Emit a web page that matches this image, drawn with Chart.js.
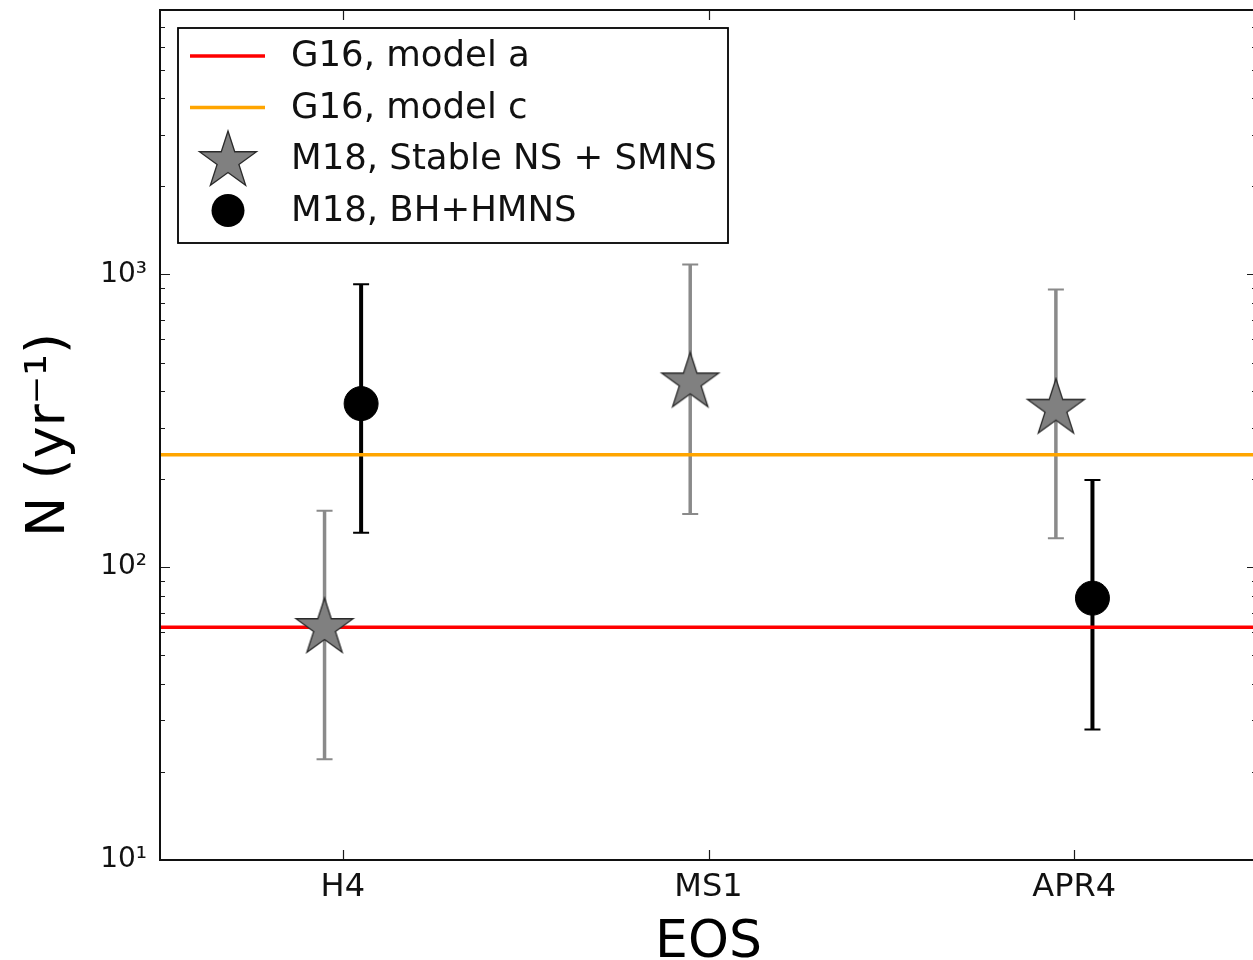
<!DOCTYPE html>
<html>
<head>
<meta charset="utf-8">
<title>N vs EOS</title>
<script src="https://cdn.jsdelivr.net/npm/chart.js@4"></script>
<style>
  html, body { margin: 0; padding: 0; background: #fff; overflow: hidden; }
  #wrap { width: 1258px; height: 960px; }
</style>
</head>
<body>
<div id="wrap"><canvas id="chart" width="1258" height="960"></canvas></div>
<script>
// categories on the x axis
const eosLabels = ['H4', 'MS1', 'APR4'];
const yTickValues = [10, 100, 1000];
const yTickLabels = ['10\u00B9', '10\u00B2', '10\u00B3'];

// G16 rates, drawn as horizontal levels
const g16ModelA = 62.4;
const g16ModelC = 242;

// M18 stable NS + SMNS (stars)
const starEos = [0, 1, 2];
const starValue = [62, 428, 348];
const starLow = [22.1, 152, 125.6];
const starHigh = [156, 1082, 889];

// M18 BH+HMNS (circles)
const circleEos = [0, 2];
const circleValue = [362, 78.4];
const circleLow = [131, 27.9];
const circleHigh = [925, 198.6];

const xShift = 0.05;
const FONT = "'DejaVu Sans', 'Liberation Sans', sans-serif";
Chart.defaults.font.family = FONT;

function makeStar(r) {
  const size = 2 * Math.ceil(r + 2);
  const c = document.createElement('canvas');
  c.width = size; c.height = size;
  const g = c.getContext('2d');
  g.beginPath();
  for (let i = 0; i < 10; i++) {
    const rad = i % 2 === 0 ? r : r * 0.381966;
    const a = -Math.PI / 2 + i * Math.PI / 5;
    g.lineTo(size / 2 + rad * Math.cos(a), size / 2 + rad * Math.sin(a));
  }
  g.closePath();
  g.fillStyle = '#808080';
  g.fill();
  g.lineWidth = 1.3;
  g.strokeStyle = '#2a2a2a';
  g.stroke();
  return c;
}
const starImg = makeStar(30);

const starPoints = starEos.map((e, i) => ({ x: e - xShift, y: starValue[i] }));
const circlePoints = circleEos.map((e, i) => ({ x: e + xShift, y: circleValue[i] }));

// vertical error bars with caps, drawn under everything else
const errorBars = {
  id: 'errorBars',
  beforeDatasetsDraw(chart) {
    const ctx = chart.ctx;
    const y = chart.scales.y;
    chart.data.datasets.forEach((ds, di) => {
      if (!ds.errLow) return;
      const meta = chart.getDatasetMeta(di);
      meta.data.forEach((pt, i) => {
        const yl = y.getPixelForValue(ds.errLow[i]);
        const yh = y.getPixelForValue(ds.errHigh[i]);
        ctx.save();
        ctx.strokeStyle = ds.errColor;
        ctx.lineWidth = ds.errWidth;
        ctx.beginPath();
        ctx.moveTo(pt.x, yl);
        ctx.lineTo(pt.x, yh);
        ctx.stroke();
        ctx.lineWidth = 2;
        ctx.beginPath();
        ctx.moveTo(pt.x - 8, yl); ctx.lineTo(pt.x + 8, yl);
        ctx.moveTo(pt.x - 8, yh); ctx.lineTo(pt.x + 8, yh);
        ctx.stroke();
        ctx.restore();
      });
    });
  }
};

// frame, inward ticks and the boxed legend
const frameAndLegend = {
  id: 'frameAndLegend',
  afterDraw(chart) {
    const ctx = chart.ctx;
    const a = chart.chartArea;
    const xs = chart.scales.x, ys = chart.scales.y;
    ctx.save();
    ctx.strokeStyle = '#1a1a1a';
    ctx.lineWidth = 1.2;
    ctx.beginPath();
    eosLabels.forEach((_, i) => {
      const px = Math.round(xs.getPixelForValue(i)) + 0.5;
      ctx.moveTo(px, a.bottom); ctx.lineTo(px, a.bottom - 10);
      ctx.moveTo(px, a.top); ctx.lineTo(px, a.top + 10);
    });
    for (let d = 10; d <= 1000; d *= 10) {
      for (let k = 1; k <= 9; k++) {
        const v = k * d;
        if (v > ys.max) break;
        const len = k === 1 ? 10 : 5;
        const py = Math.round(ys.getPixelForValue(v)) + 0.5;
        ctx.moveTo(a.left, py); ctx.lineTo(a.left + len, py);
        ctx.moveTo(a.right, py); ctx.lineTo(a.right - len, py);
      }
    }
    ctx.stroke();

    ctx.lineWidth = 2;
    ctx.strokeStyle = '#111';
    ctx.strokeRect(a.left, a.top, a.right - a.left, a.bottom - a.top);

    // legend box
    const lx = a.left + 18, ly = a.top + 18, lw = 550, lh = 215;
    ctx.fillStyle = '#fff';
    ctx.fillRect(lx, ly, lw, lh);
    ctx.lineWidth = 1.8;
    ctx.strokeStyle = '#000';
    ctx.strokeRect(lx, ly, lw, lh);

    const entries = [
      { label: 'G16, model a', kind: 'line', color: '#ff0000' },
      { label: 'G16, model c', kind: 'line', color: '#ffa500' },
      { label: 'M18, Stable NS + SMNS', kind: 'star' },
      { label: 'M18, BH+HMNS', kind: 'circle' }
    ];
    ctx.font = '35.5px ' + FONT;
    ctx.textBaseline = 'middle';
    ctx.textAlign = 'left';
    entries.forEach((e, i) => {
      const cy = ly + 28 + i * 51.5;
      if (e.kind === 'line') {
        ctx.strokeStyle = e.color;
        ctx.lineWidth = 3.5;
        ctx.beginPath();
        ctx.moveTo(lx + 12, cy); ctx.lineTo(lx + 87, cy);
        ctx.stroke();
      } else if (e.kind === 'star') {
        ctx.drawImage(starImg, lx + 50 - starImg.width / 2, cy + 2 - starImg.height / 2);
      } else {
        ctx.fillStyle = '#000';
        ctx.beginPath();
        ctx.arc(lx + 50, cy, 16.5, 0, Math.PI * 2);
        ctx.fill();
      }
      ctx.fillStyle = '#111';
      ctx.fillText(e.label, lx + 113, cy + 1);
    });
    ctx.restore();
  }
};

new Chart(document.getElementById('chart'), {
  type: 'scatter',
  data: {
    datasets: [
      {
        label: 'M18, BH+HMNS',
        data: circlePoints,
        pointStyle: 'circle',
        pointRadius: 17,
        backgroundColor: '#000',
        borderColor: '#000',
        borderWidth: 1,
        errLow: circleLow, errHigh: circleHigh,
        errColor: '#000', errWidth: 4
      },
      {
        label: 'M18, Stable NS + SMNS',
        data: starPoints,
        pointStyle: starImg,
        pointRadius: 30,
        errLow: starLow, errHigh: starHigh,
        errColor: '#8a8a8a', errWidth: 3.5
      },
      {
        label: 'G16, model c',
        data: [{ x: -0.5, y: g16ModelC }, { x: 2.5, y: g16ModelC }],
        showLine: true,
        pointRadius: 0,
        borderColor: '#ffa500',
        borderWidth: 3.5
      },
      {
        label: 'G16, model a',
        data: [{ x: -0.5, y: g16ModelA }, { x: 2.5, y: g16ModelA }],
        showLine: true,
        pointRadius: 0,
        borderColor: '#ff0000',
        borderWidth: 3.5
      }
    ]
  },
  options: {
    responsive: false,
    animation: false,
    layout: { autoPadding: false, padding: { top: 10, right: 1, left: 0, bottom: 0 } },
    plugins: { legend: { display: false }, tooltip: { enabled: false } },
    scales: {
      x: {
        type: 'linear',
        min: -0.5,
        max: 2.5,
        grid: { display: false, drawTicks: false },
        border: { display: false },
        afterBuildTicks: s => { s.ticks = eosLabels.map((_, i) => ({ value: i })); },
        afterFit: s => { s.height = 100; s.paddingLeft = 0; s.paddingRight = 0; },
        ticks: {
          callback: v => eosLabels[v] ?? '',
          font: { size: 32 },
          color: '#111',
          padding: 8,
          maxRotation: 0,
          autoSkip: false
        },
        title: { display: true, text: 'EOS', font: { size: 52, lineHeight: 0.77 }, color: '#000', padding: { top: 0, bottom: -4 } }
      },
      y: {
        type: 'logarithmic',
        min: 10,
        max: 8000,
        grid: { display: false, drawTicks: false },
        border: { display: false },
        afterBuildTicks: s => { s.ticks = yTickValues.map(v => ({ value: v })); },
        afterFit: s => { s.width = 160; s.paddingTop = 0; s.paddingBottom = 0; },
        ticks: {
          callback: v => yTickLabels[yTickValues.indexOf(v)] ?? '',
          font: { size: 28 },
          color: '#111',
          padding: 13
        },
        title: { display: true, text: 'N (yr\u207B\u00B9)', font: { size: 54, lineHeight: 1.2 }, color: '#000', padding: { top: 18 } }
      }
    }
  },
  plugins: [errorBars, frameAndLegend]
});
</script>
</body>
</html>
